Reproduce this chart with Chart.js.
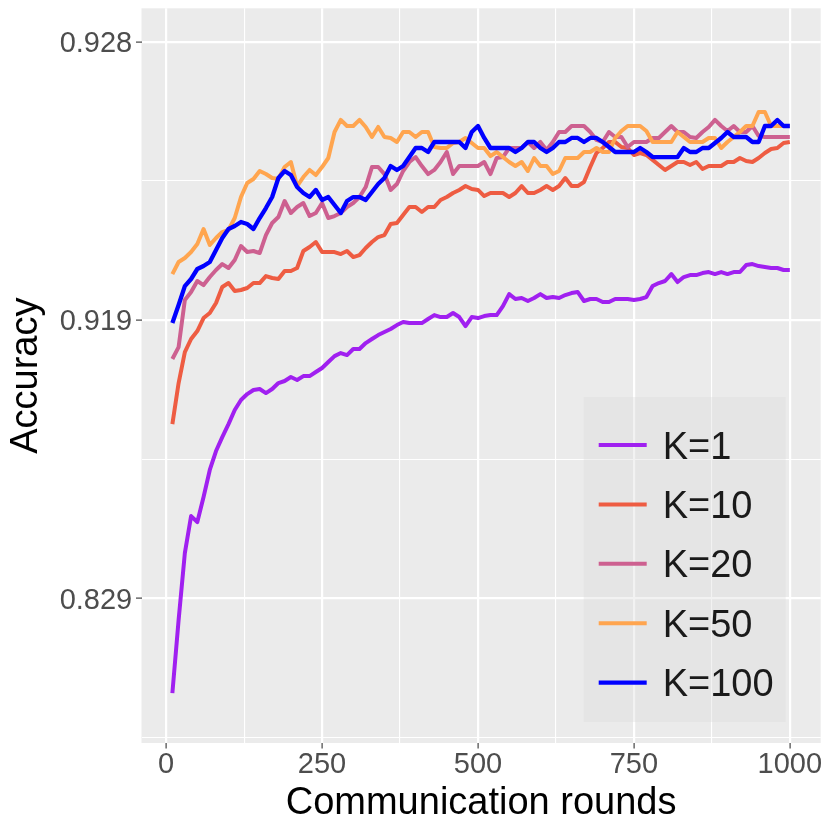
<!DOCTYPE html>
<html>
<head>
<meta charset="utf-8">
<script src="https://cdn.jsdelivr.net/npm/chart.js@4.4.1/dist/chart.umd.min.js"></script>
<style>
  html, body { margin: 0; padding: 0; background: #ffffff; }
  #wrap { width: 830px; height: 830px; }
</style>
</head>
<body>
<div id="wrap"><canvas id="accChart" width="830" height="830"></canvas></div>
<script>
// Communication rounds (x) and accuracy per K (y)
const rounds = [10, 20, 30, 40, 50, 60, 70, 80, 90, 100,
    110, 120, 130, 140, 150, 160, 170, 180, 190, 200,
    210, 220, 230, 240, 250, 260, 270, 280, 290, 300,
    310, 320, 330, 340, 350, 360, 370, 380, 390, 400,
    410, 420, 430, 440, 450, 460, 470, 480, 490, 500,
    510, 520, 530, 540, 550, 560, 570, 580, 590, 600,
    610, 620, 630, 640, 650, 660, 670, 680, 690, 700,
    710, 720, 730, 740, 750, 760, 770, 780, 790, 800,
    810, 820, 830, 840, 850, 860, 870, 880, 890, 900,
    910, 920, 930, 940, 950, 960, 970, 980, 990, 1000];

const k1 = [0.70986, 0.80931, 0.860193, 0.878334, 0.875769, 0.885709, 0.894401, 0.899425, 0.902649, 0.905334,
    0.90794, 0.909612, 0.910536, 0.911152, 0.911294, 0.91069, 0.911294, 0.912144, 0.912427, 0.912961,
    0.912569, 0.913091, 0.913091, 0.913613, 0.914114, 0.914835, 0.915517, 0.915849, 0.915628, 0.916283,
    0.916283, 0.916894, 0.917293, 0.917668, 0.917949, 0.918222, 0.918567, 0.918826, 0.918739, 0.918739,
    0.918739, 0.919078, 0.919396, 0.919237, 0.919237, 0.919555, 0.919237, 0.918481, 0.919237, 0.919157,
    0.919316, 0.919396, 0.919396, 0.920085, 0.920928, 0.920591, 0.920659, 0.920451, 0.920659, 0.920928,
    0.920659, 0.920726, 0.920659, 0.920861, 0.920995, 0.921062, 0.920451, 0.920591, 0.920591, 0.920378,
    0.920378, 0.920591, 0.920591, 0.920591, 0.920524, 0.920591, 0.920726, 0.921445, 0.921631, 0.921755,
    0.922159, 0.921693, 0.921988, 0.922102, 0.922102, 0.922216, 0.922273, 0.922159, 0.922273, 0.922159,
    0.922273, 0.922273, 0.92265, 0.922702, 0.922597, 0.922545, 0.922492, 0.922492, 0.922387, 0.922387];

const k10 = [0.905334, 0.912144, 0.91596, 0.917293, 0.918042, 0.919157, 0.919555, 0.920305, 0.921383, 0.921631,
    0.92113, 0.921197, 0.921321, 0.921631, 0.921631, 0.922045, 0.921931, 0.921874, 0.92233, 0.92233,
    0.922492, 0.923348, 0.92353, 0.923752, 0.923299, 0.923299, 0.923299, 0.923202, 0.923348, 0.923057,
    0.923154, 0.923485, 0.923752, 0.923964, 0.924046, 0.924477, 0.924515, 0.924802, 0.925071, 0.925071,
    0.924906, 0.925071, 0.925071, 0.925294, 0.925383, 0.925501, 0.925589, 0.925697, 0.925616, 0.925589,
    0.925412, 0.925501, 0.925501, 0.925501, 0.925383, 0.925501, 0.925697, 0.925501, 0.925501, 0.925589,
    0.925697, 0.925589, 0.925697, 0.92591, 0.925697, 0.925697, 0.925806, 0.926178, 0.926487, 0.926589,
    0.926706, 0.926706, 0.926609, 0.926589, 0.926445, 0.926487, 0.926445, 0.926339, 0.926224, 0.926109,
    0.926201, 0.926293, 0.926293, 0.926224, 0.926293, 0.926132, 0.926201, 0.926201, 0.926201, 0.926293,
    0.926293, 0.926381, 0.926316, 0.926293, 0.926381, 0.926487, 0.926569, 0.926589, 0.926687, 0.926706];

const k20 = [0.915186, 0.916486, 0.920524, 0.921062, 0.921755, 0.921507, 0.921988, 0.922387, 0.922702, 0.922492,
    0.922912, 0.923574, 0.923299, 0.923348, 0.923251, 0.924046, 0.924515, 0.924732, 0.925262, 0.924871,
    0.925071, 0.925198, 0.924767, 0.924871, 0.925198, 0.924697, 0.924767, 0.924871, 0.925071, 0.925198,
    0.925383, 0.92567, 0.926178, 0.926178, 0.926009, 0.925589, 0.925752, 0.926084, 0.926293, 0.926402,
    0.926201, 0.926009, 0.926109, 0.926293, 0.926508, 0.926009, 0.926201, 0.926201, 0.926201, 0.926201,
    0.926293, 0.926009, 0.926381, 0.926402, 0.926589, 0.926589, 0.926589, 0.926706, 0.926589, 0.926706,
    0.92655, 0.926706, 0.926888, 0.926888, 0.92699, 0.92699, 0.92699, 0.926888, 0.926745, 0.926706,
    0.926888, 0.926799, 0.926799, 0.926609, 0.926706, 0.926706, 0.926706, 0.926781, 0.926781, 0.926888,
    0.92699, 0.926888, 0.926888, 0.926799, 0.926781, 0.926888, 0.926974, 0.927089, 0.92699, 0.926906,
    0.92699, 0.926888, 0.926888, 0.92699, 0.926817, 0.926799, 0.926799, 0.926799, 0.926799, 0.926799];

const k50 = [0.922159, 0.922807, 0.923009, 0.923299, 0.923663, 0.924288, 0.923619, 0.923923, 0.924168, 0.92425,
    0.924697, 0.925383, 0.925779, 0.925885, 0.926084, 0.926009, 0.92591, 0.925885, 0.926178, 0.926293,
    0.925697, 0.925935, 0.926109, 0.925985, 0.926178, 0.926381, 0.926888, 0.927089, 0.92699, 0.92699,
    0.927089, 0.926974, 0.926799, 0.926974, 0.926799, 0.926781, 0.926706, 0.926888, 0.926888, 0.926799,
    0.926888, 0.926888, 0.926609, 0.926589, 0.926589, 0.926687, 0.926706, 0.926781, 0.926687, 0.926589,
    0.926589, 0.926423, 0.926508, 0.926402, 0.926293, 0.926201, 0.926293, 0.926084, 0.926381, 0.926201,
    0.926201, 0.926009, 0.926084, 0.926381, 0.926381, 0.926381, 0.926508, 0.926508, 0.926589, 0.926508,
    0.926508, 0.926781, 0.926906, 0.92699, 0.92699, 0.92699, 0.926906, 0.926706, 0.926706, 0.926706,
    0.926706, 0.926888, 0.926799, 0.926706, 0.926706, 0.926706, 0.926781, 0.926781, 0.926589, 0.926706,
    0.926799, 0.926888, 0.92699, 0.92699, 0.92721, 0.92721, 0.92699, 0.92699, 0.92699, 0.92699];

const k100 = [0.918739, 0.920159, 0.921445, 0.921874, 0.92244, 0.922597, 0.922807, 0.923396, 0.923923, 0.924288,
    0.924401, 0.924552, 0.924477, 0.924288, 0.924697, 0.925039, 0.925383, 0.92591, 0.926084, 0.925985,
    0.92567, 0.925501, 0.925383, 0.925589, 0.925294, 0.925383, 0.925135, 0.924871, 0.925262, 0.925383,
    0.925383, 0.925294, 0.92553, 0.925752, 0.92591, 0.926201, 0.926109, 0.926201, 0.926402, 0.926589,
    0.926589, 0.926508, 0.926706, 0.926706, 0.926706, 0.926706, 0.926706, 0.926589, 0.926888, 0.92699,
    0.926781, 0.926589, 0.926589, 0.926589, 0.926589, 0.926508, 0.926589, 0.926706, 0.926706, 0.926589,
    0.926508, 0.926589, 0.926706, 0.926706, 0.926781, 0.926781, 0.926706, 0.926781, 0.926781, 0.926706,
    0.926609, 0.926508, 0.926508, 0.926508, 0.926508, 0.926589, 0.926508, 0.926402, 0.926402, 0.926402,
    0.926402, 0.926402, 0.926589, 0.926508, 0.926508, 0.926589, 0.926589, 0.926687, 0.926781, 0.926888,
    0.926799, 0.926799, 0.926799, 0.926706, 0.926706, 0.92699, 0.92699, 0.927089, 0.92699, 0.92699];

const seriesLabels = ['K=1', 'K=10', 'K=20', 'K=50', 'K=100'];
const seriesValues = [k1, k10, k20, k50, k100];
const seriesColors = ['#A020F0', '#EE5C42', '#CD6090', '#FFA54F', '#0000FF'];

// axis ticks
const xTicks = [0, 250, 500, 750, 1000];
const xMinorTicks = [125, 375, 625, 875];
const yTicks = [0.829, 0.919, 0.928];
const yTickLabels = ['0.829', '0.919', '0.928'];
const yMinorTicks = [0.612772, 0.897377, 0.925838];

// y axis is stretched near the top: t = -log10(0.929 - acc)
const ACC_CAP = 0.929;
function toT(v) { return -Math.log10(ACC_CAP - v); }
function fromT(t) { return ACC_CAP - Math.pow(10, -t); }

class AccuracyScale extends Chart.LinearScale {
    determineDataLimits() {
        this.min = this.options.min;
        this.max = this.options.max;
    }
    buildTicks() {
        const major = yTicks.map(v => ({ value: v }));
        const minor = yMinorTicks.map(v => ({ value: v, minor: true }));
        return major.concat(minor).sort((a, b) => a.value - b.value);
    }
    getPixelForValue(value) {
        const a = toT(this.min), b = toT(this.max);
        return this.getPixelForDecimal((toT(value) - a) / (b - a));
    }
    getValueForPixel(pixel) {
        const a = toT(this.min), b = toT(this.max);
        return fromT(a + this.getDecimalForPixel(pixel) * (b - a));
    }
}
AccuracyScale.id = 'accuracy';
AccuracyScale.defaults = {};
Chart.register(AccuracyScale);

const FONT = "'Liberation Sans', Arial, Helvetica, sans-serif";

// grey panel behind the plot
const panelBackground = {
    id: 'panelBackground',
    beforeDraw(chart) {
        const { ctx, chartArea } = chart;
        ctx.save();
        ctx.fillStyle = '#EBEBEB';
        ctx.fillRect(chartArea.left, chartArea.top, chartArea.right - chartArea.left, chartArea.bottom - chartArea.top);
        ctx.restore();
    }
};

// legend drawn inside the panel, bottom right
const insideLegend = {
    id: 'insideLegend',
    afterDatasetsDraw(chart) {
        const { ctx, chartArea } = chart;
        const boxRight = chartArea.right - 35;
        const boxBottom = chartArea.bottom - 21;
        const boxLeft = boxRight - 202;
        const boxTop = boxBottom - 325;
        ctx.save();
        ctx.fillStyle = 'rgba(217, 217, 217, 0.35)';
        ctx.fillRect(boxLeft, boxTop, boxRight - boxLeft, boxBottom - boxTop);
        ctx.font = '38px ' + FONT;
        ctx.textAlign = 'left';
        ctx.textBaseline = 'alphabetic';
        chart.data.datasets.forEach(function(ds, i) {
            const y = boxTop + 48 + i * 59.4;
            ctx.strokeStyle = ds.borderColor;
            ctx.lineWidth = ds.borderWidth;
            ctx.lineCap = 'butt';
            ctx.beginPath();
            ctx.moveTo(boxLeft + 15, y);
            ctx.lineTo(boxLeft + 63, y);
            ctx.stroke();
            ctx.fillStyle = '#1A1A1A';
            ctx.fillText(ds.label, boxLeft + 79, y + 13.5);
        });
        ctx.restore();
    }
};

// keep the panel edges fixed, like ggplot does
function noOverflow(axis) {
    axis.paddingTop = 0;
    axis.paddingBottom = 0;
    axis.paddingLeft = 0;
    axis.paddingRight = 0;
}

const datasets = seriesLabels.map(function(label, i) {
    return {
        label: label,
        data: rounds.map((r, j) => ({ x: r, y: seriesValues[i][j] })),
        borderColor: seriesColors[i],
        backgroundColor: seriesColors[i],
        borderWidth: i === 4 ? 4.3 : 4,
        borderJoinStyle: 'round',
        pointRadius: 0,
        tension: 0,
        fill: false,
        order: seriesLabels.length - i
    };
});

const ctx = document.getElementById('accChart').getContext('2d');
const accChart = new Chart(ctx, {
    type: 'line',
    data: { datasets: datasets },
    plugins: [panelBackground, insideLegend],
    options: {
        responsive: false,
        animation: false,
        devicePixelRatio: 1,
        layout: {
            padding: { top: 8.3, right: 9.3, left: 0, bottom: 0 }
        },
        plugins: {
            legend: { display: false },
            tooltip: { enabled: false }
        },
        scales: {
            x: {
                type: 'linear',
                bounds: 'data',
                min: -39.5,
                max: 1049.5,
                afterBuildTicks: function(axis) {
                    const major = xTicks.map(v => ({ value: v }));
                    const minor = xMinorTicks.map(v => ({ value: v, minor: true }));
                    axis.ticks = major.concat(minor).sort((a, b) => a.value - b.value);
                },
                afterFit: function(axis) {
                    axis.height = 87;
                    noOverflow(axis);
                },
                border: { display: false },
                grid: {
                    color: '#FFFFFF',
                    lineWidth: c => (c.tick && c.tick.minor) ? 1.1 : 2.2,
                    drawTicks: true,
                    tickLength: 5.5,
                    tickWidth: 1.1,
                    tickColor: c => (c.tick && c.tick.minor) ? 'rgba(0,0,0,0)' : '#333333'
                },
                ticks: {
                    autoSkip: false,
                    maxRotation: 0,
                    padding: 1.7,
                    color: '#4D4D4D',
                    font: { family: FONT, size: 29, lineHeight: 1 },
                    callback: function(value, index, ticks) {
                        return ticks[index].minor ? '' : String(value);
                    }
                },
                title: {
                    display: true,
                    text: 'Communication rounds',
                    color: '#000000',
                    font: { family: FONT, size: 38, lineHeight: 1.2 },
                    padding: { top: 0, bottom: 4 }
                }
            },
            y: {
                type: 'accuracy',
                position: 'left',
                min: 0.59787,
                max: 0.928241,
                afterFit: function(axis) {
                    axis.width = 141.5;
                    noOverflow(axis);
                },
                border: { display: false },
                grid: {
                    color: '#FFFFFF',
                    lineWidth: c => (c.tick && c.tick.minor) ? 1.1 : 2.2,
                    drawTicks: true,
                    tickLength: 5.5,
                    tickWidth: 1.1,
                    tickColor: c => (c.tick && c.tick.minor) ? 'rgba(0,0,0,0)' : '#333333'
                },
                ticks: {
                    autoSkip: false,
                    padding: 3.8,
                    labelOffset: 2.5,
                    color: '#4D4D4D',
                    font: { family: FONT, size: 29, lineHeight: 1 },
                    callback: function(value, index, ticks) {
                        if (ticks[index].minor) return '';
                        return yTickLabels[yTicks.indexOf(value)];
                    }
                },
                title: {
                    display: true,
                    text: 'Accuracy',
                    color: '#000000',
                    font: { family: FONT, size: 38, lineHeight: 1.2 },
                    padding: { top: 4, bottom: 0 }
                }
            }
        }
    }
});
</script>
</body>
</html>
